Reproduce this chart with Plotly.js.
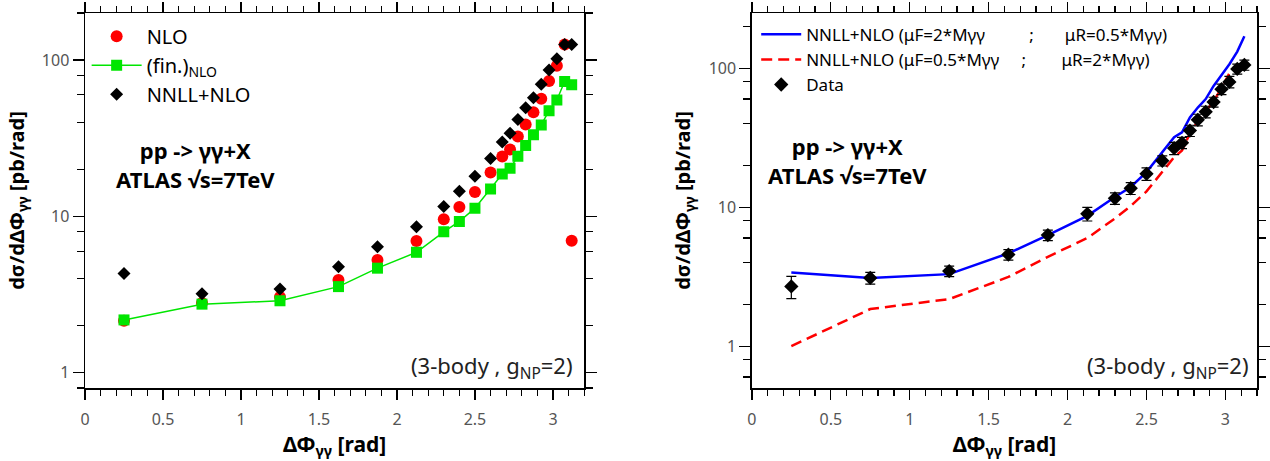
<!DOCTYPE html>
<html>
<head>
<meta charset="utf-8">
<script src="https://cdn.plot.ly/plotly-3.0.1.min.js"></script>
<style>html,body{margin:0;padding:0;background:#fff;}#chart{width:1270px;height:461px;}</style>
</head>
<body>
<div id="chart"></div>
<script>
// ΔΦγγ bin centres
const phi = [0.25,0.75,1.25,1.625,1.875,2.125,2.3,2.4,2.5,2.6,2.675,2.725,2.775,2.825,2.875,2.925,2.975,3.025,3.075,3.12];
// Left panel
const nlo     = [2.15,2.8,3.05,3.93,5.27,6.96,9.6,11.5,14.35,19.1,24.2,26.8,32.5,38.7,46.4,56.5,73.4,92,125.7,7.0];
const nloErr  = [null,null,null,null,null,null,null,null,null,null,1.3,null,null,null,null,null,null,null,null,null];
const finNlo  = [2.18,2.75,2.89,3.56,4.67,5.9,7.98,9.29,11.3,15.0,18.7,20.3,24.3,28.4,33.3,38.5,47.5,55.6,73,69.6];
const nnllNlo = [4.31,3.21,3.44,4.77,6.4,8.59,11.6,14.5,18.1,23.5,29.9,34.1,41.7,49.5,57.5,70,86.3,102,125.7,125.7];
// Right panel
const atlas    = [2.69,3.1,3.47,4.56,6.3,8.96,11.6,13.7,17.4,21.6,26.6,29.1,35.6,42.6,48.6,57.2,70.8,79.8,98.9,105.7];
const atlasErr = [0.49,0.3,0.3,0.4,0.55,1.0,1.1,1.35,1.8,1.8,2.7,2.7,3.3,4.1,4.7,4.7,6.2,7.6,8.1,8.9];
const nnllF2R05 = [3.39,3.09,3.30,4.66,6.3,8.67,11.85,14.0,17.9,24.9,31.9,34.6,44.3,52.2,60,74.7,89.5,107,132,170];
const nnllF05R2 = [1.0,1.85,2.18,3.15,4.4,6.0,8.3,10.2,13.0,17.8,22.9,25.6,34,41.5,49,58,72,92,104,112];
// Tick labels
const xTicks = [0,0.5,1,1.5,2,2.5,3];
const xTickText = ['0','0.5','1','1.5','2','2.5','3'];
const yTicks = [1,10,100];
const yTickText = ['1','10','100'];
const yMinorLeft = [0.8,2,4,6,8,20,40,60,80,200];
const yMinorRight = [0.6,0.8,2,4,6,8,20,40,60,80,200];

const FONT = 'Noto Sans, Open Sans, DejaVu Sans, sans-serif';
const green = '#00e600';
const sp = n => '\u00a0'.repeat(n);

const traces = [
  {x: phi, y: nlo, type: 'scatter', mode: 'markers', name: 'NLO', xaxis: 'x', yaxis: 'y', legend: 'legend',
   marker: {symbol: 'circle', size: 12, color: '#ff0000'},
   error_y: {type: 'data', array: nloErr, visible: true, color: '#ff0000', thickness: 1.2, width: 4}},
  {x: phi, y: finNlo, type: 'scatter', mode: 'lines+markers', name: '(fin.)<sub>NLO</sub>', xaxis: 'x', yaxis: 'y', legend: 'legend',
   marker: {symbol: 'square', size: 11, color: green}, line: {color: green, width: 1.5}},
  {x: phi, y: nnllNlo, type: 'scatter', mode: 'markers', name: 'NNLL+NLO', xaxis: 'x', yaxis: 'y', legend: 'legend',
   marker: {symbol: 'diamond', size: 10, color: '#000000'}},
  {x: phi, y: nnllF2R05, type: 'scatter', mode: 'lines', xaxis: 'x2', yaxis: 'y2', legend: 'legend2',
   name: 'NNLL+NLO (μF=2*Mγγ' + sp(10) + ';' + sp(7) + 'μR=0.5*Mγγ)',
   line: {color: '#0000ff', width: 2.5}},
  {x: phi, y: nnllF05R2, type: 'scatter', mode: 'lines', xaxis: 'x2', yaxis: 'y2', legend: 'legend2',
   name: 'NNLL+NLO (μF=0.5*Mγγ' + sp(5) + ';' + sp(8) + 'μR=2*Mγγ)',
   line: {color: '#ff0000', width: 2.5, dash: '11px,6px'}},
  {x: phi, y: atlas, type: 'scatter', mode: 'markers', name: 'Data', xaxis: 'x2', yaxis: 'y2', legend: 'legend2',
   marker: {symbol: 'diamond', size: 11, color: '#000000'},
   error_y: {type: 'data', array: atlasErr, visible: true, color: '#000000', thickness: 1.2, width: 5}}
];

function xAxis(domain) {
  return {
    domain: domain, range: [0, 3.2], showgrid: false, zeroline: false,
    showline: true, linecolor: '#000', linewidth: 1.5, mirror: 'ticks',
    ticks: 'outside', ticklen: 10, tickwidth: 1.3, tickcolor: '#000',
    tickmode: 'array', tickvals: xTicks, ticktext: xTickText, ticklabelstandoff: 6,
    tickfont: {family: FONT, size: 16, color: '#555'},
    minor: {dtick: 0.1, tick0: 0, ticks: 'outside', ticklen: 6, tickwidth: 1.3, tickcolor: '#000'},
    title: {text: '<b>ΔΦ<sub>γγ</sub> [rad]</b>', font: {family: FONT, size: 21, color: '#000'}, standoff: 6}
  };
}
function yAxis(range, minorVals) {
  return {
    type: 'log', range: range, showgrid: false, zeroline: false,
    showline: true, linecolor: '#000', linewidth: 1.5, mirror: 'ticks',
    ticks: 'outside', ticklen: 11, tickwidth: 1.3, tickcolor: '#000',
    tickmode: 'array', tickvals: yTicks, ticktext: yTickText,
    tickfont: {family: FONT, size: 16, color: '#555'},
    minor: {tickmode: 'array', tickvals: minorVals, ticks: 'outside', ticklen: 7, tickwidth: 1.3, tickcolor: '#000'},
    title: {text: '<b>dσ/dΔΦ<sub>γγ</sub> [pb/rad]</b>', font: {family: FONT, size: 20, color: '#000'}, standoff: 12}
  };
}

const annFont = {family: FONT, size: 22, color: '#000'};
const procText = '<b>pp -> γγ+X</b><br><b>ATLAS √s=7TeV</b>';
const layout = {
  width: 1270, height: 461,
  margin: {l: 85, r: 13, t: 13, b: 73},
  paper_bgcolor: '#fff', plot_bgcolor: '#fff',
  font: {family: FONT, color: '#000'},
  xaxis: Object.assign(xAxis([0, 0.4259]), {anchor: 'y'}),
  yaxis: Object.assign(yAxis([Math.log10(0.8), Math.log10(200)], yMinorLeft), {anchor: 'x'}),
  xaxis2: Object.assign(xAxis([0.569, 1]), {anchor: 'y2'}),
  yaxis2: Object.assign(yAxis([Math.log10(0.5), Math.log10(250)], yMinorRight), {anchor: 'x2'}),
  legend: {x: 0.0014, y: 0.99, xanchor: 'left', yanchor: 'top', bgcolor: 'rgba(0,0,0,0)',
           font: {family: FONT, size: 20, color: '#000'}, itemwidth: 50, tracegroupgap: 0},
  legend2: {x: 0.5727, y: 0.99, xanchor: 'left', yanchor: 'top', bgcolor: 'rgba(0,0,0,0)',
           font: {family: FONT, size: 17, color: '#000'}, itemwidth: 40, tracegroupgap: 0},
  showlegend: true,
  annotations: [
    {xref: 'paper', yref: 'paper', x: 0.0939, y: 0.597, xanchor: 'center', yanchor: 'middle', showarrow: false,
     align: 'center', text: procText, font: annFont},
    {xref: 'paper', yref: 'paper', x: 0.651, y: 0.608, xanchor: 'center', yanchor: 'middle', showarrow: false,
     align: 'center', text: procText, font: annFont},
    {xref: 'paper', yref: 'paper', x: 0.4185, y: 0.057, xanchor: 'right', yanchor: 'middle', showarrow: false,
     text: '(3-body , g<sub>NP</sub>=2)', font: {family: FONT, size: 22, color: '#222'}},
    {xref: 'paper', yref: 'paper', x: 0.9945, y: 0.057, xanchor: 'right', yanchor: 'middle', showarrow: false,
     text: '(3-body , g<sub>NP</sub>=2)', font: {family: FONT, size: 22, color: '#222'}}
  ]
};

Plotly.newPlot('chart', traces, layout, {displayModeBar: false, staticPlot: true});
</script>
</body>
</html>
